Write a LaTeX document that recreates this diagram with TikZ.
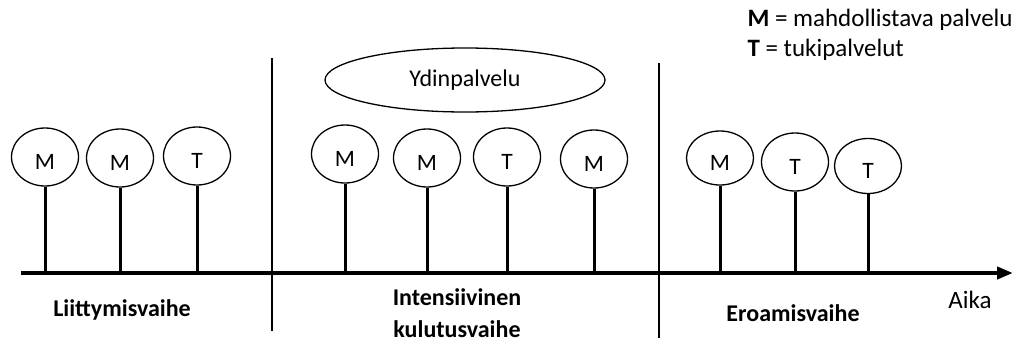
\documentclass[tikz,border=0pt]{standalone}
\usepackage{fontspec}
\setmainfont{Carlito}
\usetikzlibrary{shapes.geometric,arrows.meta}
\begin{document}
\begin{tikzpicture}[x=1pt,y=-1pt,
  svc/.style={draw, ellipse, line width=1.3pt, inner sep=0pt, minimum width=67pt, minimum height=58pt, text height=24pt, text depth=0pt, font=\fontsize{23.5}{28}\selectfont},
  stem/.style={line width=3pt},
  sep/.style={line width=2.6pt},
  lbl/.style={font=\fontsize{24}{32}\selectfont\bfseries, align=center},
]
\useasboundingbox (0,0) rectangle (1016,343);
% axis
\coordinate (a0) at (21,273);
\coordinate (a1) at (1013,273);
\draw[line width=4.5pt, -{Triangle[length=16pt,width=12pt]}] (a0) -- (a1);
% separators
\coordinate (s1t) at (272,58);
\coordinate (s1b) at (272,331);
\coordinate (s2t) at (659,63);
\coordinate (s2b) at (659,338);
\draw[sep] (s1t) -- (s1b);
\draw[sep] (s2t) -- (s2b);
% core service
\node[draw, ellipse, line width=1.3pt, minimum width=280pt, minimum height=64pt, inner sep=0pt, font=\fontsize{24}{28}\selectfont] (core) at (465,80) {Ydinpalvelu};
% left group
\node[svc] (l1) at (45,157) {M};
\node[svc] (l2) at (120,158) {M};
\node[svc] (l3) at (197,156) {T};
% middle group
\node[svc] (m1) at (345,154) {M};
\node[svc] (m2) at (427,158) {M};
\node[svc] (m3) at (507,157) {T};
\node[svc] (m4) at (594,159) {M};
% right group
\node[svc, minimum height=54pt] (r1) at (720,158) {M};
\node[svc] (r2) at (795,162) {T};
\node[svc, minimum height=55pt] (r3) at (868,166) {T};
% stems
\foreach \n in {l1,l2,l3,m1,m2,m3,m4,r1,r2,r3}
  \draw[stem] (\n.south) -- (\n.south |- a0);
% phase labels
\node[lbl] (p1) at (122,310) {Liittymisvaihe};
\node[lbl, anchor=base] (p2) at (457,337) {Intensiivinen\\kulutusvaihe};
\node[lbl] (p3) at (793,313) {Eroamisvaihe};
\node[font=\fontsize{25}{30}\selectfont] (aika) at (970,300) {Aika};
% legend
\node[anchor=west, font=\fontsize{25}{30}\selectfont] (leg1) at (744,20) {\textbf{M} = mahdollistava palvelu};
\node[anchor=west, font=\fontsize{25}{30}\selectfont] (leg2) at (744,50) {\textbf{T} = tukipalvelut};
\end{tikzpicture}
\end{document}
